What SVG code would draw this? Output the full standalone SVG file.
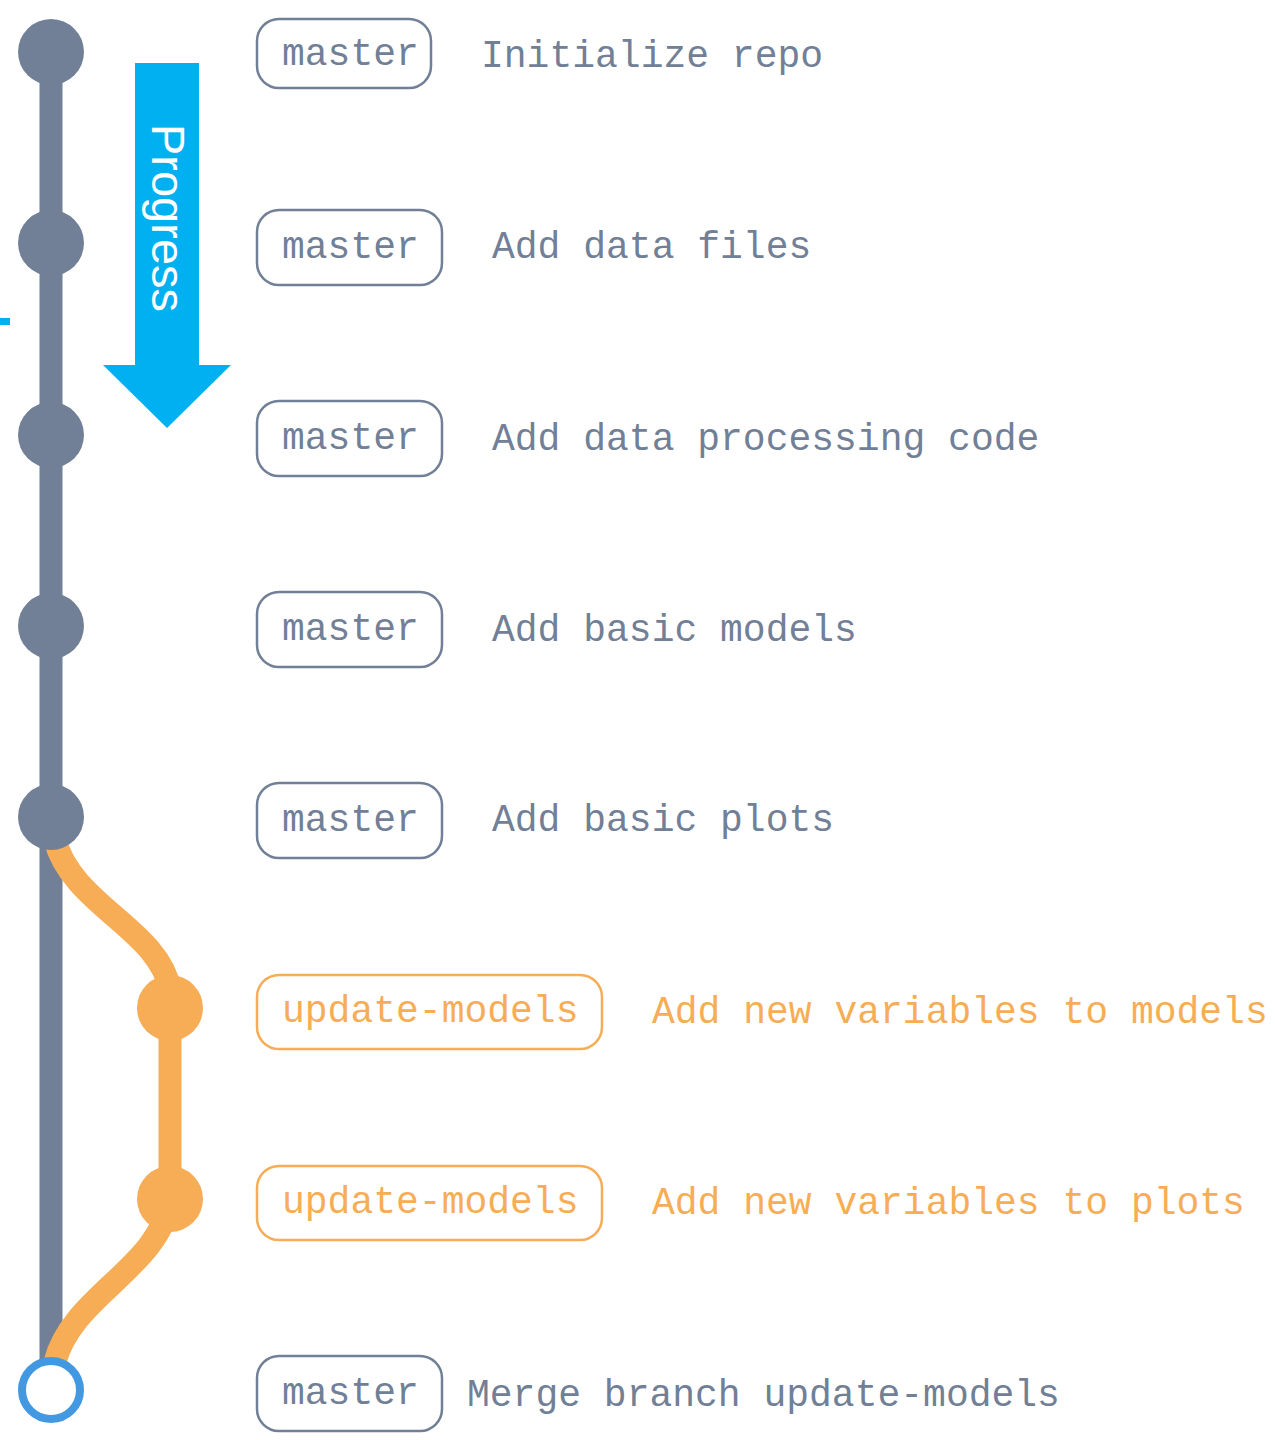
<svg xmlns="http://www.w3.org/2000/svg" width="1275" height="1440" viewBox="0 0 1275 1440">
<style>
.mono{font-family:"Liberation Mono","DejaVu Sans Mono",monospace;font-size:38px}
.g{fill:#718096}
.o{fill:#f6ad55}
.tagg{fill:#fff;stroke:#718096;stroke-width:2.5}
.tago{fill:#fff;stroke:#f6ad55;stroke-width:2.5}
.nodeg{fill:#718096}
.nodeo{fill:#f6ad55}
</style>
<rect width="1275" height="1440" fill="#fff"/>
<g id="connectors" fill="none" stroke-width="23">
<line x1="51" y1="52" x2="51" y2="1370" stroke="#718096"/>
<path d="M55,840 C72,905 160,930 170,990 L170,1199 C160,1268 72,1295 55,1362" stroke="#f6ad55"/>
</g>
<g id="progress">
<rect x="0" y="318" width="10" height="7" fill="#00b0f0"/>
<path d="M135,63 H199 V365 H231 L167,428 L103,365 H135 Z" fill="#00b0f0"/>
<text transform="translate(152,218) rotate(90)" text-anchor="middle" font-family="Liberation Sans, Arial, sans-serif" font-size="47" fill="#fff">Progress</text>
</g>
<g id="c1"><circle cx="51" cy="52" r="33" class="nodeg"/><rect x="257" y="19" width="174" height="69" rx="22" class="tagg"/><text x="282" y="65" class="mono g">master</text><text x="481" y="67" class="mono g">Initialize repo</text></g>
<g id="c2"><circle cx="51" cy="243" r="33" class="nodeg"/><rect x="257" y="210" width="185" height="75" rx="22" class="tagg"/><text x="282" y="258" class="mono g">master</text><text x="492" y="258" class="mono g">Add data files</text></g>
<g id="c3"><circle cx="51" cy="435" r="33" class="nodeg"/><rect x="257" y="401" width="185" height="75" rx="22" class="tagg"/><text x="282" y="449" class="mono g">master</text><text x="492" y="450" class="mono g">Add data processing code</text></g>
<g id="c4"><circle cx="51" cy="626" r="33" class="nodeg"/><rect x="257" y="592" width="185" height="75" rx="22" class="tagg"/><text x="282" y="640" class="mono g">master</text><text x="492" y="641" class="mono g">Add basic models</text></g>
<g id="c5"><circle cx="51" cy="817" r="33" class="nodeg"/><rect x="257" y="783" width="185" height="75" rx="22" class="tagg"/><text x="282" y="831" class="mono g">master</text><text x="492" y="831" class="mono g">Add basic plots</text></g>
<g id="c6"><circle cx="170" cy="1008" r="33" class="nodeo"/><rect x="257" y="975" width="345" height="74" rx="22" class="tago"/><text x="282" y="1022" class="mono o">update-models</text><text x="652" y="1023" class="mono o">Add new variables to models</text></g>
<g id="c7"><circle cx="170" cy="1199" r="33" class="nodeo"/><rect x="257" y="1166" width="345" height="74" rx="22" class="tago"/><text x="282" y="1213" class="mono o">update-models</text><text x="652" y="1214" class="mono o">Add new variables to plots</text></g>
<g id="c8"><circle cx="51" cy="1390" r="29" fill="#fff" stroke="#4299e1" stroke-width="8"/><rect x="257" y="1356" width="185" height="75" rx="22" class="tagg"/><text x="282" y="1404" class="mono g">master</text><text x="467" y="1406" class="mono g">Merge branch update-models</text></g>
</svg>
